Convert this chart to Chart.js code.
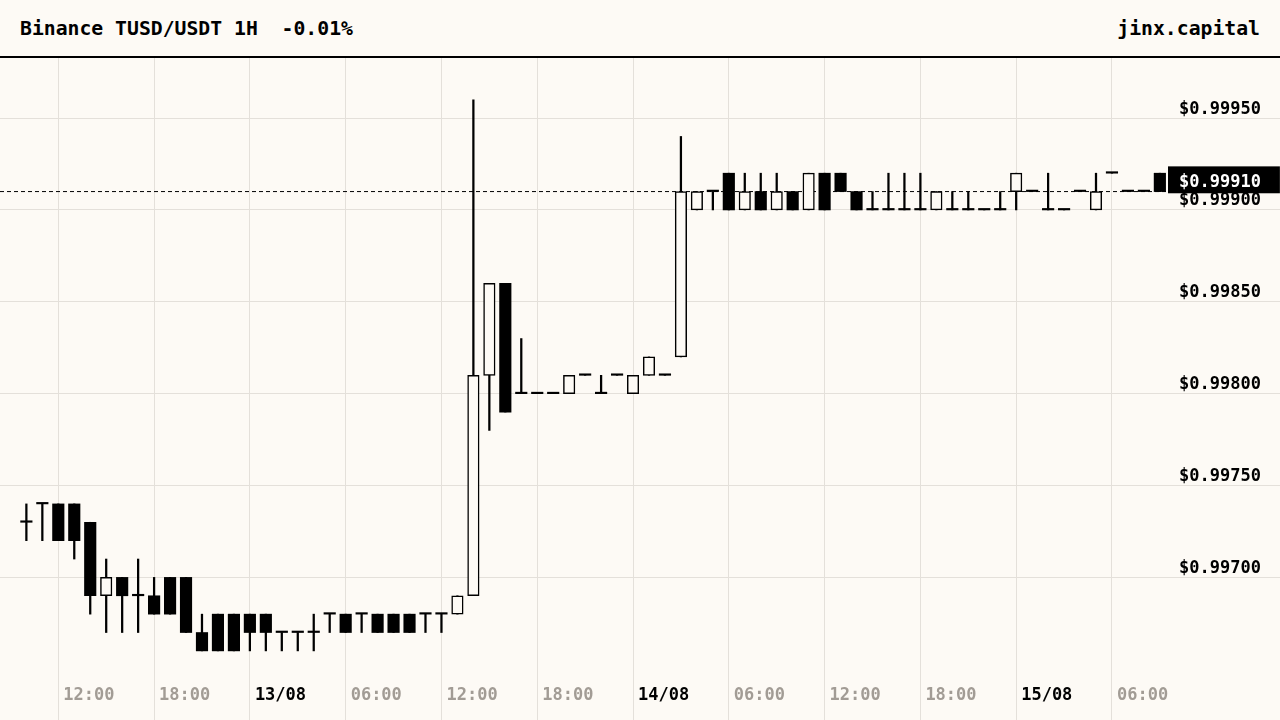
<!DOCTYPE html>
<html>
<head>
<meta charset="utf-8">
<script src="https://cdn.jsdelivr.net/npm/chart.js@4.4.0/dist/chart.umd.min.js"></script>
<style>
  html, body { margin: 0; padding: 0; background: #fdfaf5; }
  body { width: 1280px; height: 720px; overflow: hidden; font-family: 'DejaVu Sans Mono', monospace; font-weight: bold; color: #000; }
  .header { height: 56px; border-bottom: 2px solid #000; display: flex; justify-content: space-between; align-items: center; padding: 0 20px; font-size: 19.75px; white-space: pre; }
  .chart-box { position: relative; width: 1280px; height: 662px; }
</style>
</head>
<body>
<div class="header"><span>Binance TUSD/USDT 1H  -0.01%</span><span>jinx.capital</span></div>
<div class="chart-box"><canvas id="chart"></canvas></div>
<script>
// hours counted from 12/08 00:00, one candle per hour
const hours = [10, 11, 12, 13, 14, 15, 16, 17, 18, 19, 20, 21, 22, 23,
  24, 25, 26, 27, 28, 29, 30, 31, 32, 33, 34, 35, 36, 37, 38, 39, 40, 41, 42, 43, 44, 45, 46, 47,
  48, 49, 50, 51, 52, 53, 54, 55, 56, 57, 58, 59, 60, 61, 62, 63, 64, 65, 66, 67, 68, 69, 70, 71,
  72, 73, 74, 75, 76, 77, 78, 79, 80, 81];

const opens = [0.99730, 0.99740, 0.99740, 0.99740, 0.99730, 0.99690, 0.99700, 0.99690, 0.99690, 0.99700, 0.99700, 0.99670, 0.99680, 0.99680,
  0.99680, 0.99680, 0.99670, 0.99670, 0.99670, 0.99680, 0.99680, 0.99680, 0.99680, 0.99680, 0.99680, 0.99680, 0.99680, 0.99680, 0.99690, 0.99810, 0.99860, 0.99800, 0.99800, 0.99800, 0.99800, 0.99810, 0.99800, 0.99810,
  0.99800, 0.99810, 0.99810, 0.99820, 0.99900, 0.99910, 0.99920, 0.99900, 0.99910, 0.99900, 0.99910, 0.99900, 0.99920, 0.99920, 0.99910, 0.99900, 0.99900, 0.99900, 0.99900, 0.99900, 0.99900, 0.99900, 0.99900, 0.99900,
  0.99910, 0.99910, 0.99900, 0.99900, 0.99910, 0.99900, 0.99920, 0.99910, 0.99910, 0.99920];

const highs = [0.99740, 0.99740, 0.99740, 0.99740, 0.99730, 0.99710, 0.99700, 0.99710, 0.99700, 0.99700, 0.99700, 0.99680, 0.99680, 0.99680,
  0.99680, 0.99680, 0.99670, 0.99670, 0.99680, 0.99680, 0.99680, 0.99680, 0.99680, 0.99680, 0.99680, 0.99680, 0.99680, 0.99690, 0.99960, 0.99860, 0.99860, 0.99830, 0.99800, 0.99800, 0.99810, 0.99810, 0.99810, 0.99810,
  0.99810, 0.99820, 0.99810, 0.99940, 0.99910, 0.99910, 0.99920, 0.99920, 0.99920, 0.99920, 0.99910, 0.99920, 0.99920, 0.99920, 0.99910, 0.99910, 0.99920, 0.99920, 0.99920, 0.99910, 0.99910, 0.99910, 0.99900, 0.99910,
  0.99920, 0.99910, 0.99920, 0.99900, 0.99910, 0.99920, 0.99920, 0.99910, 0.99910, 0.99920];

const lows = [0.99720, 0.99720, 0.99720, 0.99710, 0.99680, 0.99670, 0.99670, 0.99670, 0.99680, 0.99680, 0.99670, 0.99660, 0.99660, 0.99660,
  0.99660, 0.99660, 0.99660, 0.99660, 0.99660, 0.99670, 0.99670, 0.99670, 0.99670, 0.99670, 0.99670, 0.99670, 0.99670, 0.99680, 0.99690, 0.99780, 0.99790, 0.99800, 0.99800, 0.99800, 0.99800, 0.99810, 0.99800, 0.99810,
  0.99800, 0.99810, 0.99810, 0.99820, 0.99900, 0.99900, 0.99900, 0.99900, 0.99900, 0.99900, 0.99900, 0.99900, 0.99900, 0.99910, 0.99900, 0.99900, 0.99900, 0.99900, 0.99900, 0.99900, 0.99900, 0.99900, 0.99900, 0.99900,
  0.99900, 0.99910, 0.99900, 0.99900, 0.99910, 0.99900, 0.99920, 0.99910, 0.99910, 0.99910];

const closes = [0.99730, 0.99740, 0.99720, 0.99720, 0.99690, 0.99700, 0.99690, 0.99690, 0.99680, 0.99680, 0.99670, 0.99660, 0.99660, 0.99660,
  0.99670, 0.99670, 0.99670, 0.99670, 0.99670, 0.99680, 0.99670, 0.99680, 0.99670, 0.99670, 0.99670, 0.99680, 0.99680, 0.99690, 0.99810, 0.99860, 0.99790, 0.99800, 0.99800, 0.99800, 0.99810, 0.99810, 0.99800, 0.99810,
  0.99810, 0.99820, 0.99810, 0.99910, 0.99910, 0.99910, 0.99900, 0.99910, 0.99900, 0.99910, 0.99900, 0.99920, 0.99900, 0.99910, 0.99900, 0.99900, 0.99900, 0.99900, 0.99900, 0.99910, 0.99900, 0.99900, 0.99900, 0.99900,
  0.99920, 0.99910, 0.99900, 0.99900, 0.99910, 0.99910, 0.99920, 0.99910, 0.99910, 0.99910];

const tickHours = [12, 18, 24, 30, 36, 42, 48, 54, 60, 66, 72, 78];
const tickLabels = ['12:00', '18:00', '13/08', '06:00', '12:00', '18:00', '14/08', '06:00', '12:00', '18:00', '15/08', '06:00'];
const priceTicks = [0.99700, 0.99750, 0.99800, 0.99850, 0.99900, 0.99950];

const lastPrice = closes[closes.length - 1];

const X_MIN = 8.348, X_MAX = 81.51;
const Y_MIN = 0.996496, Y_MAX = 0.999827;
const BG = '#fdfaf5';
const GRID = '#e4e0da';
const GREY = '#a29c95';
const FONT = "'DejaVu Sans Mono', monospace";

const isLast = v => Math.abs(v - lastPrice) < 1e-9;
const up = closes.map((c, i) => c > opens[i]);

const wicks = hours.map((h, i) => ({ x: h, y: [lows[i], highs[i]] }));
const bodies = hours.map((h, i) => ({ x: h, y: [opens[i], closes[i]] }));

new Chart(document.getElementById('chart'), {
  type: 'bar',
  data: {
    datasets: [
      {
        type: 'line',
        data: [{ x: X_MIN, y: lastPrice }, { x: X_MAX, y: lastPrice }],
        borderColor: '#000',
        borderWidth: 1,
        borderDash: [4, 3],
        pointRadius: 0,
        order: 3
      },
      {
        data: wicks,
        backgroundColor: '#000',
        barThickness: 1.6,
        grouped: false,
        order: 2
      },
      {
        data: bodies,
        backgroundColor: up.map(u => u ? BG : '#000'),
        borderColor: '#000',
        borderWidth: up.map(u => u ? 1.5 : 0),
        borderSkipped: false,
        barThickness: 11.5,
        minBarLength: 1.5,
        grouped: false,
        order: 1
      }
    ]
  },
  options: {
    responsive: true,
    maintainAspectRatio: false,
    animation: false,
    layout: { padding: 0 },
    plugins: { legend: { display: false }, tooltip: { enabled: false } },
    scales: {
      x: {
        type: 'linear',
        min: X_MIN,
        max: X_MAX,
        offset: false,
        afterBuildTicks: s => { s.ticks = tickHours.map(v => ({ value: v })); },
        afterFit: s => { s.height = 50; },
        grid: { color: GRID, offset: false, tickLength: 50 },
        border: { display: false },
        ticks: {
          autoSkip: false,
          maxRotation: 0,
          minRotation: 0,
          align: 'start',
          labelOffset: 5,
          padding: -35,
          font: { family: FONT, size: 17, weight: 'bold' },
          color: ctx => (tickHours[ctx.index] % 24 === 0 ? '#000' : GREY),
          callback: (v, i) => tickLabels[i]
        }
      },
      y: {
        position: 'right',
        min: Y_MIN,
        max: Y_MAX,
        beginAtZero: false,
        afterBuildTicks: s => {
          s.ticks = priceTicks.concat([lastPrice]).sort((a, b) => a - b).map(v => ({ value: v }));
        },
        afterFit: s => { s.width = 112; },
        grid: {
          color: ctx => (ctx.tick && isLast(ctx.tick.value) ? 'rgba(0,0,0,0)' : GRID),
          tickLength: 112
        },
        border: { display: false },
        ticks: {
          autoSkip: false,
          padding: -101,
          labelOffset: ctx => (ctx.tick && isLast(ctx.tick.value) ? -11 : -9),
          font: { family: FONT, size: 17, weight: 'bold' },
          color: ctx => (ctx.tick && isLast(ctx.tick.value) ? '#fff' : '#000'),
          showLabelBackdrop: ctx => !!(ctx.tick && isLast(ctx.tick.value)),
          backdropColor: '#000',
          backdropPadding: { left: 11, right: 19, top: 6, bottom: 0.5 },
          callback: v => '$' + v.toFixed(5)
        }
      }
    }
  }
});
</script>
</body>
</html>
